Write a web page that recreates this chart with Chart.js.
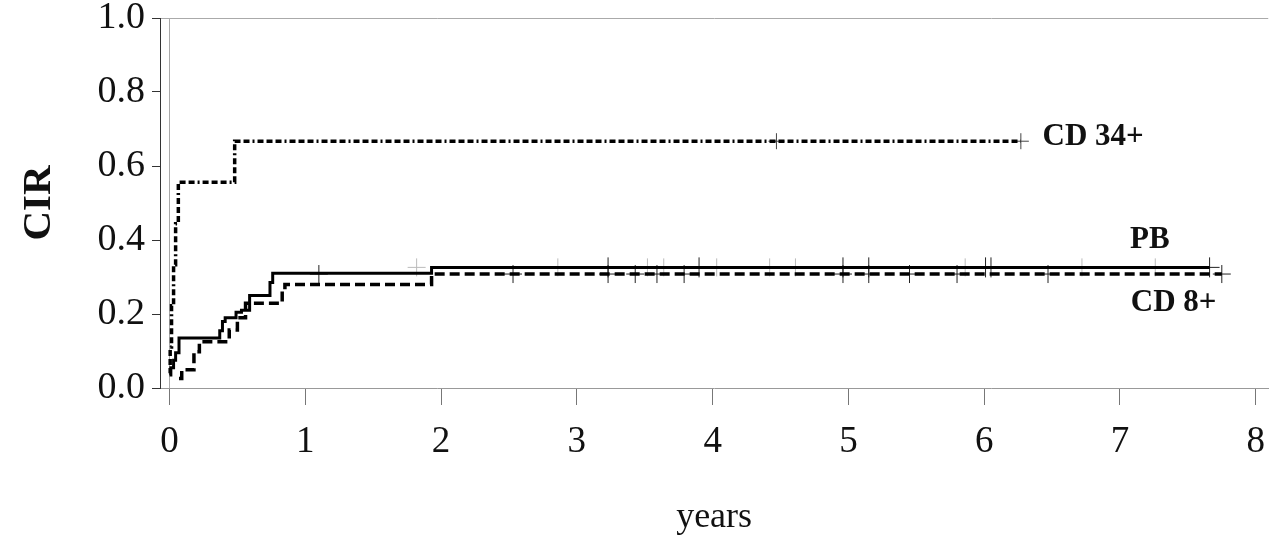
<!DOCTYPE html>
<html>
<head>
<meta charset="utf-8">
<script src="https://cdn.jsdelivr.net/npm/chart.js@4/dist/chart.umd.min.js"></script>
<style>
  html, body { margin: 0; padding: 0; background: #fff; }
  #wrap { width: 1280px; height: 550px; position: relative; }
</style>
</head>
<body>
<div id="wrap"><canvas id="cirChart"></canvas></div>
<script>
// tick values
const xTicks = [0, 1, 2, 3, 4, 5, 6, 7, 8];
const yTicks = [0, 0.2, 0.4, 0.6, 0.8, 1.0];

// PB (solid line)
const pbYears = [0, 0.01, 0.03, 0.045, 0.07, 0.37, 0.39, 0.41, 0.49, 0.53, 0.59, 0.74, 0.76, 1.93, 7.66];
const pbCir   = [0.035, 0.055, 0.075, 0.095, 0.135, 0.155, 0.18, 0.19, 0.205, 0.21, 0.25, 0.285, 0.31, 0.326, 0.326];

// CD 8+ (dashed line)
const cd8Years = [0.07, 0.09, 0.18, 0.22, 0.44, 0.50, 0.56, 0.83, 0.85, 1.93, 7.75];
const cd8Cir   = [0.026, 0.049, 0.098, 0.125, 0.157, 0.19, 0.229, 0.265, 0.28, 0.308, 0.308];

// CD 34+ (dotted line)
const cd34Years = [0, 0.005, 0.015, 0.03, 0.045, 0.065, 0.48, 6.27];
const cd34Cir   = [0.04, 0.111, 0.222, 0.333, 0.444, 0.556, 0.667, 0.667];

// censored observations
const pbCensored      = [3.23, 3.90, 4.96, 5.15, 6.01, 6.05, 7.66];
const pbCensoredLight = [1.82, 2.86, 3.52, 3.64, 4.03, 4.42, 4.61, 5.86, 6.72, 7.26];
const cd8Censored     = [1.10, 2.53, 3.23, 3.43, 3.59, 3.79, 4.96, 5.15, 5.45, 5.80, 6.47, 7.75];
const cd34Censored    = [4.47, 6.27];

// series labels
const seriesNames = ['PB', 'CD 8+', 'CD 34+'];

const toPoints = (xs, ys) => xs.map((x, i) => ({ x: x, y: ys[i] }));
const censorPoints = (xs, level) => xs.map(x => ({ x: x, y: level }));

const serif = "'Liberation Serif', 'Times New Roman', serif";

// labels beside the curves, placed in data units
const curveLabels = [
  { text: seriesNames[2], x: 6.43, y: 0.678, align: 'left' },
  { text: seriesNames[0], x: 7.22, y: 0.40, align: 'center' },
  { text: seriesNames[1], x: 7.08, y: 0.23, align: 'left' }
];

const labelPlugin = {
  id: 'curveLabels',
  afterDatasetsDraw(chart) {
    const ctx = chart.ctx;
    const xs = chart.scales.x, ys = chart.scales.y;
    ctx.save();
    ctx.fillStyle = '#111';
    ctx.font = "bold 31px " + serif;
    ctx.textBaseline = 'middle';
    curveLabels.forEach(l => {
      ctx.textAlign = l.align;
      ctx.fillText(l.text, xs.getPixelForValue(l.x), ys.getPixelForValue(l.y));
    });
    ctx.restore();
  }
};

const crossStyle = (data, color, r) => ({
  data: data,
  showLine: false,
  pointStyle: 'cross',
  pointRadius: r,
  pointBorderWidth: 1,
  pointBorderColor: color,
  pointBackgroundColor: color
});

const ctx = document.getElementById('cirChart').getContext('2d');
const chart = new Chart(ctx, {
  type: 'scatter',
  data: {
    datasets: [
      {
        label: seriesNames[0],
        data: toPoints(pbYears, pbCir),
        showLine: true,
        stepped: true,
        borderColor: '#000',
        borderWidth: 3,
        pointRadius: 0
      },
      {
        label: seriesNames[1],
        data: toPoints(cd8Years, cd8Cir),
        showLine: true,
        stepped: true,
        borderColor: '#000',
        borderWidth: 3.5,
        borderDash: [10, 5],
        pointRadius: 0
      },
      {
        label: seriesNames[2],
        data: toPoints(cd34Years, cd34Cir),
        showLine: true,
        stepped: true,
        borderColor: '#000',
        borderWidth: 3.5,
        borderDash: [6, 3, 6, 3, 6, 3, 2, 3],
        pointRadius: 0
      },
      crossStyle(censorPoints(pbCensoredLight, 0.326), '#bbb', 9),
      crossStyle(censorPoints(pbCensored, 0.326), '#222', 10),
      crossStyle(censorPoints(cd8Censored, 0.308), '#222', 9),
      crossStyle(censorPoints(cd34Censored, 0.667), '#444', 8)
    ]
  },
  options: {
    responsive: true,
    maintainAspectRatio: false,
    animation: false,
    devicePixelRatio: 1,
    layout: { autoPadding: false, padding: { top: 18, right: 0, left: 0, bottom: 0 } },
    plugins: {
      legend: { display: false },
      tooltip: { enabled: false }
    },
    scales: {
      x: {
        type: 'linear',
        min: -0.07,
        max: 8.092,
        afterBuildTicks: scale => { scale.ticks = xTicks.map(v => ({ value: v })); },
        afterFit: scale => { scale.height = 162; },
        border: { color: '#999', width: 1 },
        grid: {
          color: c => (c.tick && c.tick.value === 0) ? '#aaa' : 'rgba(0,0,0,0)',
          tickColor: '#777',
          tickLength: 17,
          drawOnChartArea: true
        },
        ticks: {
          color: '#111',
          font: { family: serif, size: 37 },
          padding: 15,
          maxRotation: 0,
          autoSkip: false
        },
        title: {
          display: true,
          text: 'years',
          color: '#111',
          font: { family: serif, size: 36, lineHeight: 1.6 }
        }
      },
      y: {
        min: 0,
        max: 1,
        afterBuildTicks: scale => { scale.ticks = yTicks.map(v => ({ value: v })); },
        afterFit: scale => { scale.width = 160; },
        border: { color: '#333', width: 1 },
        grid: {
          color: c => (c.tick && c.tick.value === 1) ? '#aaa' : 'rgba(0,0,0,0)',
          tickColor: '#333',
          tickLength: 8
        },
        ticks: {
          color: '#111',
          font: { family: serif, size: 38, lineHeight: 0.55 },
          padding: 7,
          callback: v => Number(v).toFixed(1)
        },
        title: {
          display: true,
          text: 'CIR',
          color: '#111',
          font: { family: serif, size: 41, weight: 'bold', lineHeight: 1.75 }
        }
      }
    }
  },
  plugins: [labelPlugin]
});
</script>
</body>
</html>
